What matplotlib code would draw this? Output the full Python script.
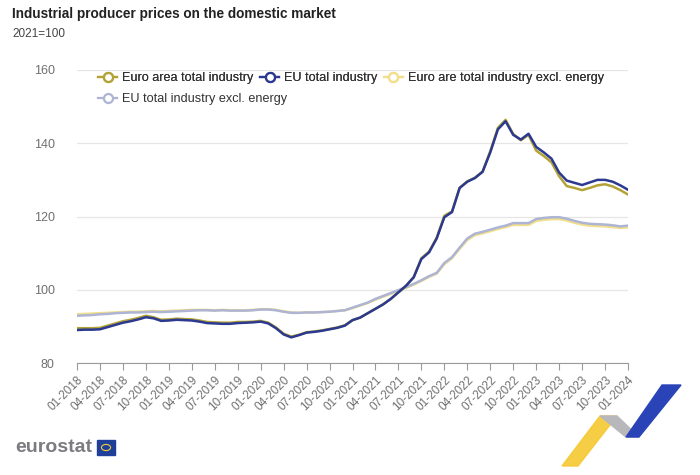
import matplotlib
matplotlib.use('Agg')
import matplotlib.pyplot as plt
from matplotlib.lines import Line2D
from matplotlib.patches import Polygon, Rectangle, Circle
import numpy as np

plt.rcParams['font.family'] = ['Liberation Sans', 'DejaVu Sans']

# Monthly index values, 01-2018 .. 01-2024 (2021=100)
euro_area_total = [
    89.5, 89.5, 89.5, 89.6, 90.2, 90.8, 91.4, 91.8, 92.3, 92.9, 92.5, 91.8,
    91.9, 92.1, 92.0, 91.9, 91.6, 91.2, 91.1, 91.0, 91.0, 91.2, 91.2, 91.3,
    91.5, 91.0, 89.7, 88.0, 87.2, 87.7, 88.4, 88.6, 88.9, 89.3, 89.7, 90.3,
    91.7, 92.4, 93.6, 94.8, 96.0, 97.5, 99.3, 101.1, 103.5, 108.6, 110.4, 114.2,
    120.2, 121.4, 127.8, 129.6, 130.6, 132.3, 137.8, 144.2, 146.4, 142.5, 140.8, 142.3,
    138.0, 136.5, 134.8, 131.0, 128.3, 127.8, 127.2, 127.8, 128.5, 128.8, 128.2, 127.2,
    126.0,
]
eu_total = [
    89.0, 89.1, 89.1, 89.2, 89.8, 90.4, 91.0, 91.4, 91.9, 92.5, 92.2, 91.5,
    91.6, 91.8, 91.7, 91.6, 91.3, 90.9, 90.8, 90.7, 90.7, 90.9, 91.0, 91.1,
    91.3, 90.8, 89.5, 87.8, 87.0, 87.6, 88.3, 88.5, 88.8, 89.2, 89.6, 90.2,
    91.7, 92.4, 93.6, 94.8, 96.0, 97.5, 99.3, 101.1, 103.4, 108.4, 110.2, 114.0,
    119.8, 121.2, 127.8, 129.5, 130.5, 132.2, 137.5, 143.8, 146.0, 142.3, 141.0, 142.6,
    139.0, 137.5, 135.8, 132.0, 129.8, 129.2, 128.6, 129.3, 130.0, 130.0, 129.5, 128.5,
    127.3,
]
euro_area_excl_energy = [
    93.3, 93.4, 93.5, 93.6, 93.7, 93.8, 93.9, 94.0, 94.0, 94.1, 94.2, 94.1,
    94.2, 94.3, 94.4, 94.5, 94.5, 94.5, 94.4, 94.5, 94.4, 94.4, 94.4, 94.5,
    94.7, 94.7, 94.5, 94.1, 93.8, 93.7, 93.8, 93.8, 93.9, 94.0, 94.2, 94.4,
    95.0, 95.7, 96.4, 97.3, 98.1, 98.9, 99.7, 100.5, 101.4, 102.4, 103.5, 104.4,
    107.0, 108.6, 111.2, 113.6, 114.9, 115.4, 116.0, 116.6, 117.1, 117.7, 117.7, 117.7,
    118.8, 119.1, 119.3, 119.3, 118.9, 118.3, 117.8, 117.5, 117.4, 117.3, 117.1, 116.9,
    117.0,
]
eu_excl_energy = [
    92.9, 93.0, 93.1, 93.3, 93.4, 93.6, 93.7, 93.8, 93.8, 93.9, 94.0, 93.9,
    94.0, 94.1, 94.2, 94.3, 94.4, 94.4, 94.3, 94.4, 94.3, 94.3, 94.3, 94.4,
    94.6, 94.6, 94.4, 94.0, 93.7, 93.7, 93.8, 93.8, 93.9, 94.0, 94.2, 94.4,
    95.1, 95.8, 96.5, 97.5, 98.3, 99.1, 99.9, 100.7, 101.6, 102.6, 103.7, 104.6,
    107.3, 108.9, 111.5, 114.0, 115.3, 115.8, 116.4, 117.0, 117.5, 118.2, 118.2, 118.2,
    119.3, 119.6, 119.8, 119.8, 119.4, 118.8, 118.3, 118.0, 117.9, 117.8, 117.6, 117.3,
    117.5,
]

tick_labels = [
    '01-2018', '04-2018', '07-2018', '10-2018',
    '01-2019', '04-2019', '07-2019', '10-2019',
    '01-2020', '04-2020', '07-2020', '10-2020',
    '01-2021', '04-2021', '07-2021', '10-2021',
    '01-2022', '04-2022', '07-2022', '10-2022',
    '01-2023', '04-2023', '07-2023', '10-2023',
    '01-2024',
]

C_EA = '#b3a336'
C_EU = '#2b3990'
C_EAX = '#f2df8a'
C_EUX = '#aeb4d4'

W, H = 700, 475


def fx(px):
    return px / W


def fy(py):
    return 1 - py / H


fig = plt.figure(figsize=(7, 4.75), dpi=100)
ax = fig.add_axes([fx(77), fy(363), fx(628) - fx(77), fy(70) - fy(363)])

months = np.arange(len(eu_total))
ax.plot(months, euro_area_excl_energy, color=C_EAX, lw=1.8)
ax.plot(months, eu_excl_energy, color=C_EUX, lw=1.8)
ax.plot(months, euro_area_total, color=C_EA, lw=1.8)
ax.plot(months, eu_total, color=C_EU, lw=1.8)

ax.set_xlim(0, len(months) - 1)
ax.set_ylim(80, 160)
ax.set_yticks([80, 100, 120, 140, 160])
ax.set_xticks(np.arange(0, len(months), 3))
ax.set_xticklabels(tick_labels, rotation=45, ha='right', rotation_mode='anchor')
ax.grid(axis='y', color='#e6e6e6', lw=0.9)
ax.set_axisbelow(True)
for s in ['left', 'right', 'top']:
    ax.spines[s].set_visible(False)
ax.spines['bottom'].set_color('#9a9a9a')
ax.tick_params(axis='x', colors='#9a9a9a', labelcolor='#707070', labelsize=8.5,
               length=5, direction='out', pad=3)
ax.tick_params(axis='y', length=0, labelcolor='#707070', labelsize=9, pad=16)

# legend: three entries on the first row, one on the second
def handle(c):
    return Line2D([0], [0], color=c, lw=1.6, marker='o', markersize=6.5,
                  markerfacecolor='white', markeredgecolor=c, markeredgewidth=1.6)

leg1 = fig.legend([handle(C_EA), handle(C_EU), handle(C_EAX)],
                  ['Euro area total industry', 'EU total industry',
                   'Euro are total industry excl. energy'],
                  ncol=3, frameon=False, loc='center left',
                  bbox_to_anchor=(fx(87), fy(78)), fontsize=9.1,
                  handlelength=1.5, handletextpad=0.4, columnspacing=0.5,
                  labelcolor='#333333')
fig.legend([handle(C_EUX)], ['EU total industry excl. energy'],
           frameon=False, loc='center left',
           bbox_to_anchor=(fx(87), fy(99)), fontsize=9.1,
           handlelength=1.5, handletextpad=0.4, labelcolor='#333333')
fig.add_artist(leg1)

fig.text(fx(12), fy(14), 'Industrial producer prices on the domestic market',
         fontsize=9.8, fontweight='bold', color='#222222', va='center')
fig.text(fx(12), fy(34), '2021=100', fontsize=8.5, color='#444444', va='center')

# eurostat logo
fig.text(fx(15), fy(447), 'eurostat', fontsize=14, fontweight='bold',
         color='#7b7b80', va='center')
fig.add_artist(Rectangle((fx(97), fy(455)), fx(18), fy(440) - fy(455),
                         transform=fig.transFigure, color='#1f3f9a'))
fig.add_artist(Circle((fx(106), fy(447.5)), 0.0065, transform=fig.transFigure,
                      fill=False, ec='#f2cf2e', lw=0.8))

# decorative chevron, bottom right
fig.add_artist(Polygon([(fx(562), fy(466)), (fx(578), fy(466)),
                        (fx(617), fy(416)), (fx(600), fy(416))],
                       transform=fig.transFigure, color='#f5c932', alpha=0.9))
fig.add_artist(Polygon([(fx(600), fy(416)), (fx(617), fy(416)),
                        (fx(639), fy(437)), (fx(626), fy(437))],
                       transform=fig.transFigure, color='#b8b8bc'))
fig.add_artist(Polygon([(fx(626), fy(437)), (fx(639), fy(437)),
                        (fx(681), fy(385)), (fx(662), fy(385))],
                       transform=fig.transFigure, color='#2a44b8'))

fig.savefig('out.png', dpi=100)
